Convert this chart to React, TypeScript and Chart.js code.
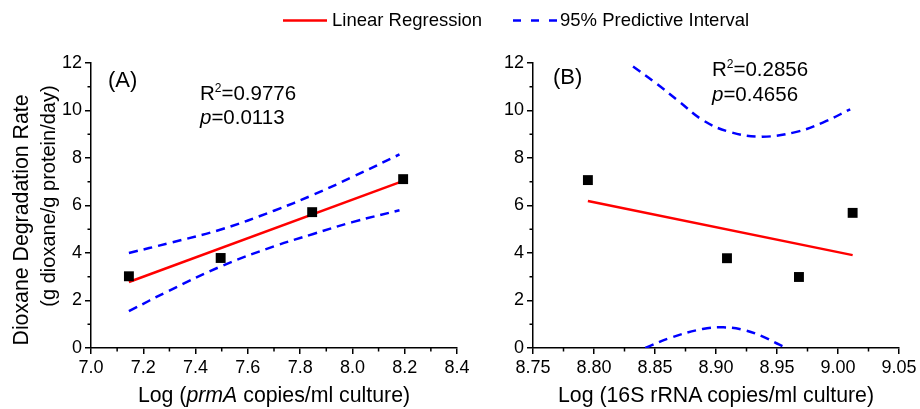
import React, { useEffect, useRef } from "react";
import { Chart, registerables } from "chart.js";

Chart.register(...registerables);

const FONT = "'Liberation Sans', Arial, Helvetica, sans-serif";

// ---------- Panel A data ----------
const aPointsX = [7.145, 7.496, 7.846, 8.194];
const aPointsY = [3.02, 3.79, 5.72, 7.11];
const aFitX = [7.145, 8.195];
const aFitY = [2.78, 7.04];
const aBandX = [7.145, 7.3, 7.5, 7.7, 7.85, 8.0, 8.18];
const aUpperY = [4.0, 4.42, 5.0, 5.78, 6.45, 7.2, 8.15];
const aLowerY = [1.55, 2.42, 3.45, 4.28, 4.8, 5.3, 5.8];
const aXTicks = [7.0, 7.2, 7.4, 7.6, 7.8, 8.0, 8.2, 8.4];
const aXMinor = [7.1, 7.3, 7.5, 7.7, 7.9, 8.1, 8.3];

// ---------- Panel B data ----------
const bPointsX = [8.795, 8.909, 8.968, 9.012];
const bPointsY = [7.07, 3.78, 2.99, 5.69];
const bFitX = [8.795, 9.012];
const bFitY = [6.19, 3.91];
const bUpperX = [8.832, 8.851, 8.87, 8.889, 8.911, 8.938, 8.966, 8.988, 9.01];
const bUpperY = [11.85, 11.14, 10.37, 9.6, 9.1, 8.9, 9.1, 9.5, 10.05];
const bLowerX = [8.842, 8.862, 8.889, 8.906, 8.922, 8.938, 8.952, 8.958];
const bLowerY = [0, 0.42, 0.8, 0.87, 0.77, 0.49, 0.14, 0];
const bXTicks = [8.75, 8.8, 8.85, 8.9, 8.95, 9.0, 9.05];
const bXMinor = [8.775, 8.825, 8.875, 8.925, 8.975, 9.025];

// ---------- shared y axis ----------
const yTicks = [0, 2, 4, 6, 8, 10, 12];
const yMinor = [1, 3, 5, 7, 9, 11];

const toXY = (xs: number[], ys: number[]) => xs.map((x, i) => ({ x, y: ys[i] }));

type PanelCfg = {
  px: number[]; py: number[];
  fx: number[]; fy: number[];
  ux: number[]; uy: number[];
  lx: number[]; ly: number[];
  xMin: number; xMax: number; xTicks: number[]; xMinor: number[]; dec: number;
  yAxisWidth: number; padRight: number;
  label: string; r2: string; p: string;
  labelDx: number; labelBase: number; statDx: number; r2Base: number; pBase: number;
};

function makeChart(canvas: HTMLCanvasElement, c: PanelCfg) {
  const annoPlugin = {
    id: "anno",
    afterDraw(chart: any) {
      const ctx = chart.ctx;
      const { left, bottom } = chart.chartArea;
      const xs = chart.scales.x;
      const ys = chart.scales.y;
      ctx.save();
      // minor ticks
      ctx.strokeStyle = "#000";
      ctx.lineWidth = 1.5;
      ctx.beginPath();
      c.xMinor.forEach((v) => {
        const p = xs.getPixelForValue(v);
        ctx.moveTo(p, bottom);
        ctx.lineTo(p, bottom + 3.5);
      });
      yMinor.forEach((v) => {
        const p = ys.getPixelForValue(v);
        ctx.moveTo(left, p);
        ctx.lineTo(left - 3.5, p);
      });
      ctx.stroke();
      // text
      ctx.fillStyle = "#000";
      ctx.textBaseline = "alphabetic";
      ctx.textAlign = "left";
      ctx.font = `22px ${FONT}`;
      ctx.fillText(c.label, left + c.labelDx, c.labelBase);
      const sx = left + c.statDx;
      ctx.font = `20.5px ${FONT}`;
      ctx.fillText("R", sx, c.r2Base);
      const wR = ctx.measureText("R").width;
      ctx.font = `12px ${FONT}`;
      ctx.fillText("2", sx + wR, c.r2Base - 8);
      const w2 = ctx.measureText("2").width;
      ctx.font = `20.5px ${FONT}`;
      ctx.fillText(c.r2, sx + wR + w2, c.r2Base);
      ctx.font = `italic 20.5px ${FONT}`;
      ctx.fillText("p", sx, c.pBase);
      const wp = ctx.measureText("p").width;
      ctx.font = `20.5px ${FONT}`;
      ctx.fillText(c.p, sx + wp, c.pBase);
      ctx.restore();
    },
  };

  const axisCommon = {
    type: "linear" as const,
    grid: {
      display: true,
      drawOnChartArea: false,
      drawTicks: true,
      tickLength: 6,
      color: "#000",
      lineWidth: 1.5,
    },
    border: { display: true, color: "#000", width: 1.5 },
  };

  return new Chart(canvas, {
    type: "scatter",
    data: {
      datasets: [
        {
          label: "data",
          data: toXY(c.px, c.py),
          pointStyle: "rect",
          pointRadius: 7,
          pointBorderWidth: 0,
          backgroundColor: "#000",
          borderColor: "#000",
          showLine: false,
        },
        {
          label: "Linear Regression",
          data: toXY(c.fx, c.fy),
          showLine: true,
          pointRadius: 0,
          borderColor: "#ff0000",
          borderWidth: 2.5,
        },
        {
          label: "upper",
          data: toXY(c.ux, c.uy),
          showLine: true,
          pointRadius: 0,
          borderColor: "#0000ff",
          borderWidth: 2.5,
          borderDash: [9, 6],
          tension: 0.4,
        },
        {
          label: "lower",
          data: toXY(c.lx, c.ly),
          showLine: true,
          pointRadius: 0,
          borderColor: "#0000ff",
          borderWidth: 2.5,
          borderDash: [9, 6],
          tension: 0.4,
        },
      ],
    },
    options: {
      responsive: false,
      animation: false,
      events: [],
      layout: {
        autoPadding: false,
        padding: { top: 63, right: c.padRight, bottom: 0, left: 0 },
      },
      plugins: { legend: { display: false }, tooltip: { enabled: false } },
      scales: {
        x: {
          ...axisCommon,
          min: c.xMin,
          max: c.xMax,
          afterBuildTicks: (s: any) => {
            s.ticks = c.xTicks.map((v) => ({ value: v }));
          },
          afterFit: (s: any) => {
            s.height = 61;
          },
          ticks: {
            autoSkip: false,
            maxRotation: 0,
            padding: 3,
            color: "#000",
            font: { family: FONT, size: 18 },
            callback: (v: any) => Number(v).toFixed(c.dec),
          },
        },
        y: {
          ...axisCommon,
          min: 0,
          max: 12,
          afterBuildTicks: (s: any) => {
            s.ticks = yTicks.map((v) => ({ value: v }));
          },
          afterFit: (s: any) => {
            s.width = c.yAxisWidth;
          },
          ticks: {
            padding: 3,
            color: "#000",
            font: { family: FONT, size: 18 },
            callback: (v: any) => String(v),
          },
        },
      },
    } as any,
    plugins: [annoPlugin],
  });
}

function Panel({ cfg, left }: { cfg: PanelCfg; left: number }) {
  const ref = useRef<HTMLCanvasElement>(null);
  useEffect(() => {
    const ch = makeChart(ref.current!, cfg);
    return () => ch.destroy();
  }, []);
  return (
    <canvas
      ref={ref}
      width={480}
      height={409}
      style={{ position: "absolute", left, top: 0, width: 480, height: 409 }}
    />
  );
}

const cfgA: PanelCfg = {
  px: aPointsX, py: aPointsY, fx: aFitX, fy: aFitY,
  ux: aBandX, uy: aUpperY, lx: aBandX, ly: aLowerY,
  xMin: 7.0, xMax: 8.4, xTicks: aXTicks, xMinor: aXMinor, dec: 1,
  yAxisWidth: 91, padRight: 23,
  label: "(A)", r2: "=0.9776", p: "=0.0113",
  labelDx: 17, labelBase: 87, statDx: 109, r2Base: 99.5, pBase: 123.5,
};

const cfgB: PanelCfg = {
  px: bPointsX, py: bPointsY, fx: bFitX, fy: bFitY,
  ux: bUpperX, uy: bUpperY, lx: bLowerX, ly: bLowerY,
  xMin: 8.75, xMax: 9.05, xTicks: bXTicks, xMinor: bXMinor, dec: 2,
  yAxisWidth: 93, padRight: 21,
  label: "(B)", r2: "=0.2856", p: "=0.4656",
  labelDx: 20, labelBase: 84, statDx: 179, r2Base: 76, pBase: 101,
};

const textStyle: React.CSSProperties = {
  position: "absolute",
  fontFamily: FONT,
  color: "#000",
  whiteSpace: "nowrap",
};

export default function App() {
  return (
    <div
      style={{
        position: "absolute",
        left: 0,
        top: 0,
        width: 920,
        height: 409,
        background: "#fff",
        overflow: "hidden",
      }}
    >
      <Panel cfg={cfgA} left={0} />
      <Panel cfg={cfgB} left={440} />

      {/* Legend */}
      <svg style={{ position: "absolute", left: 283, top: 15, overflow: "visible" }} width={45} height={12}>
        <line x1={0} y1={5.5} x2={44} y2={5.5} stroke="#ff0000" strokeWidth={2.5} />
      </svg>
      <div style={{ ...textStyle, left: 332, top: 10, fontSize: 18.5, lineHeight: "20px" }}>
        Linear Regression
      </div>
      <svg style={{ position: "absolute", left: 513, top: 15, overflow: "visible" }} width={45} height={12}>
        <line x1={0} y1={5.5} x2={44} y2={5.5} stroke="#0000ff" strokeWidth={2.5} strokeDasharray="8 10" />
      </svg>
      <div style={{ ...textStyle, left: 560, top: 10, fontSize: 18.5, lineHeight: "20px" }}>
        95% Predictive Interval
      </div>

      {/* X axis titles */}
      <div style={{ ...textStyle, left: 274, top: 385, fontSize: 21.3, lineHeight: "21px", transform: "translateX(-50%)" }}>
        Log (<i>prmA</i> copies/ml culture)
      </div>
      <div style={{ ...textStyle, left: 716, top: 385, fontSize: 21.3, lineHeight: "21px", transform: "translateX(-50%)" }}>
        Log (16S rRNA copies/ml culture)
      </div>

      {/* Y axis title */}
      <div
        style={{
          ...textStyle,
          left: 21,
          top: 220,
          fontSize: 21.3,
          lineHeight: "21px",
          transform: "translate(-50%, -50%) rotate(-90deg)",
        }}
      >
        Dioxane Degradation Rate
      </div>
      <div
        style={{
          ...textStyle,
          left: 48,
          top: 196,
          fontSize: 20,
          lineHeight: "20px",
          transform: "translate(-50%, -50%) rotate(-90deg)",
        }}
      >
        (g dioxane/g protein/day)
      </div>
    </div>
  );
}
